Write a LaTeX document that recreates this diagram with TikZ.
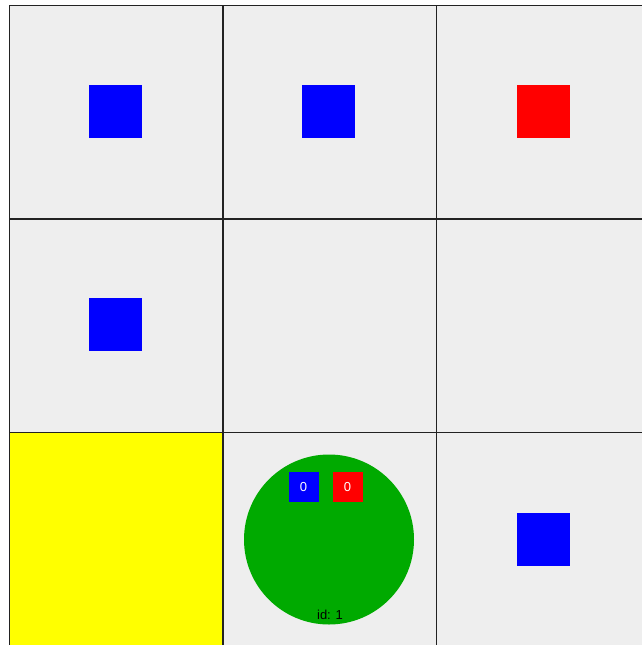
\documentclass[tikz,border=0pt]{standalone}
\usepackage{fontspec}
\setmainfont{Liberation Sans}
\definecolor{cellbg}{HTML}{EEEEEE}
\definecolor{gridline}{HTML}{222222}
\definecolor{agent}{HTML}{00AA00}
\definecolor{goal}{RGB}{255,255,0}
\begin{document}
\begin{tikzpicture}[x=1pt,y=-1pt,
  bigblue/.style={fill=blue, draw=none, minimum size=53pt, inner sep=0pt},
  bigred/.style={fill=red, draw=none, minimum size=53pt, inner sep=0pt},
  smallbox/.style={draw=none, minimum size=30pt, inner sep=0pt, text=white, font=\fontsize{13}{15}\selectfont},
  gline/.style={draw=gridline, line width=1.2pt}]
\useasboundingbox (0,0) rectangle (642,645);
\fill[white] (0,0) rectangle (642,645);
% cells
\fill[cellbg] (9.5,5.5) rectangle (650,646);
\fill[goal] (9.5,432.5) rectangle (223,646);
% grid
\draw[gline] (9.5,646) -- (9.5,5.5) -- (650,5.5);
\draw[gline] (223,5.5) -- (223,646);
\draw[gline] (436.5,5.5) -- (436.5,646);
\draw[gline] (9.5,219) -- (650,219);
\draw[gline] (9.5,432.5) -- (650,432.5);
% items
\node[bigblue] (b1) at (115,111) {};
\node[bigblue] (b2) at (328.5,111) {};
\node[bigred]  (r1) at (543,111) {};
\node[bigblue] (b3) at (115,324.5) {};
\node[bigblue] (b4) at (543,539.5) {};
% agent
\node[circle, fill=agent, minimum size=170pt, inner sep=0pt] (agent) at (329,539.5) {};
\node[smallbox, fill=blue] (cb) at (303.5,487) {0};
\node[smallbox, fill=red] (cr) at (347.5,487) {0};
\node[font=\fontsize{13}{15}\selectfont, inner sep=0pt] (id) at (330,615) {id: 1};
\end{tikzpicture}
\end{document}
